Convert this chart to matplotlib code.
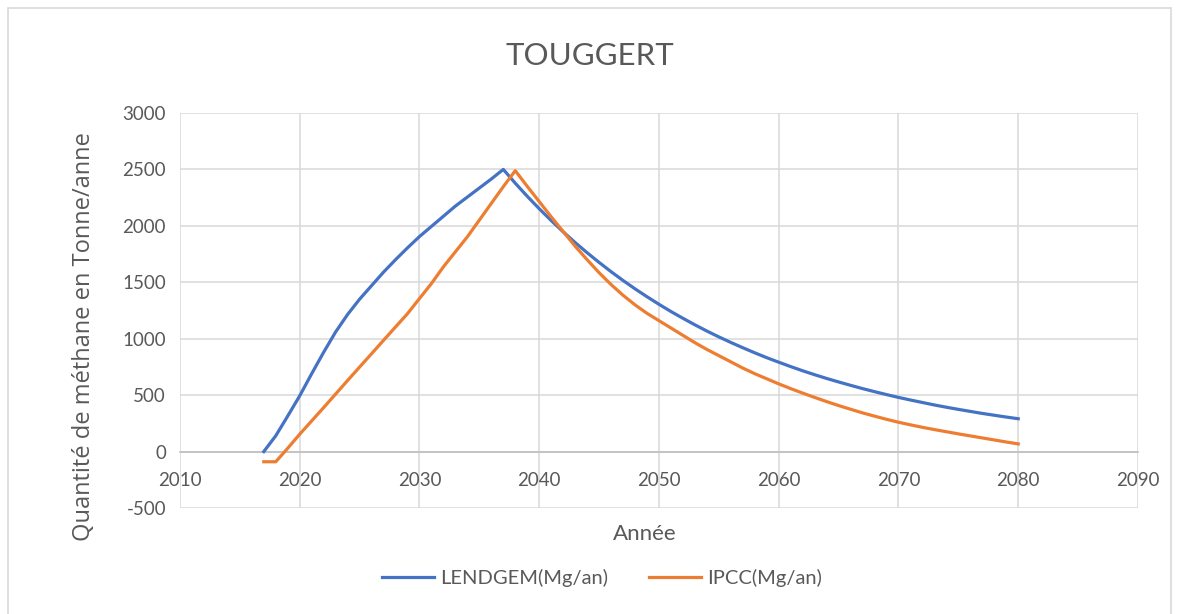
import matplotlib
matplotlib.use("Agg")
import matplotlib.pyplot as plt
from matplotlib.patches import Rectangle

plt.rcParams['font.family'] = ['Lato', 'DejaVu Sans']
plt.rcParams['axes.unicode_minus'] = False

# années 2017 -> 2080
years = list(range(2017, 2081))

# LENDGEM (Mg/an)
lendgem = [0, 140, 315, 494, 690, 880, 1060, 1215, 1350, 1470,
           1590, 1700, 1805, 1905, 1995, 2085, 2175, 2255, 2335, 2415,
           2500, 2378, 2262, 2152, 2047, 1947, 1852, 1762, 1676, 1594,
           1516, 1442, 1372, 1305, 1241, 1181, 1123, 1068, 1016, 967,
           920, 875, 832, 792, 753, 716, 681, 648, 617, 587,
           558, 531, 505, 480, 457, 435, 413, 393, 374, 356,
           338, 322, 306, 291]

# IPCC (Mg/an)
ipcc = [-90, -90, 30, 154, 272, 390, 510, 630, 749, 867,
        986, 1104, 1222, 1356, 1489, 1637, 1770, 1903, 2051, 2199,
        2347, 2489, 2350, 2215, 2080, 1950, 1820, 1700, 1585, 1480,
        1385, 1300, 1225, 1160, 1095, 1030, 965, 905, 850, 795,
        740, 690, 645, 600, 558, 518, 480, 443, 408, 375,
        343, 314, 286, 260, 237, 215, 195, 176, 157, 139,
        121, 103, 85, 68]

xticks = list(range(2010, 2091, 10))
yticks = list(range(-500, 3001, 500))

txt = '#595959'
grid = '#d9d9d9'

fig = plt.figure(figsize=(11.8, 6.14), dpi=100)
ax = fig.add_axes([0.1525, 0.1726, 0.8119, 0.6434])

ax.plot(years, lendgem, color='#4472C4', lw=2.3, label='LENDGEM(Mg/an)', zorder=3)
ax.plot(years, ipcc, color='#ED7D31', lw=2.3, label='IPCC(Mg/an)', zorder=3)

ax.set_xlim(2010, 2090)
ax.set_ylim(-500, 3000)
ax.set_xticks(xticks)
ax.set_yticks(yticks)
ax.grid(True, color=grid, lw=1.1, zorder=0)
ax.set_axisbelow(True)

for s in ['top', 'right', 'left']:
    ax.spines[s].set_visible(False)
ax.spines['bottom'].set_position(('data', 0))
ax.spines['bottom'].set_color('#bfbfbf')
ax.spines['bottom'].set_linewidth(1.2)

ax.tick_params(axis='both', length=0, labelsize=13.5, labelcolor=txt)
ax.tick_params(axis='x', pad=15)
ax.tick_params(axis='y', pad=10)

ax.set_xlabel('Année', fontsize=16, color=txt)
ax.xaxis.set_label_coords(0.485, -0.04)
ax.set_ylabel('Quantité de méthane en Tonne/anne', fontsize=17, color=txt,
              family=['Open Sans', 'DejaVu Sans'])
ax.yaxis.set_label_coords(-0.088, 0.433)

fig.text(0.5, 0.908, 'TOUGGERT', ha='center', va='center', fontsize=22.5, color=txt)

leg = fig.legend(loc='center', bbox_to_anchor=(0.51, 0.058), ncol=2, frameon=False,
                 fontsize=14.5, handlelength=2.6, columnspacing=2.0, handletextpad=0.3)
for t in leg.get_texts():
    t.set_color(txt)

fig.patches.append(Rectangle((0.007, -0.01), 0.985, 0.997, transform=fig.transFigure,
                             fill=False, edgecolor=grid, lw=1.2))

fig.savefig('out.png', dpi=100)
